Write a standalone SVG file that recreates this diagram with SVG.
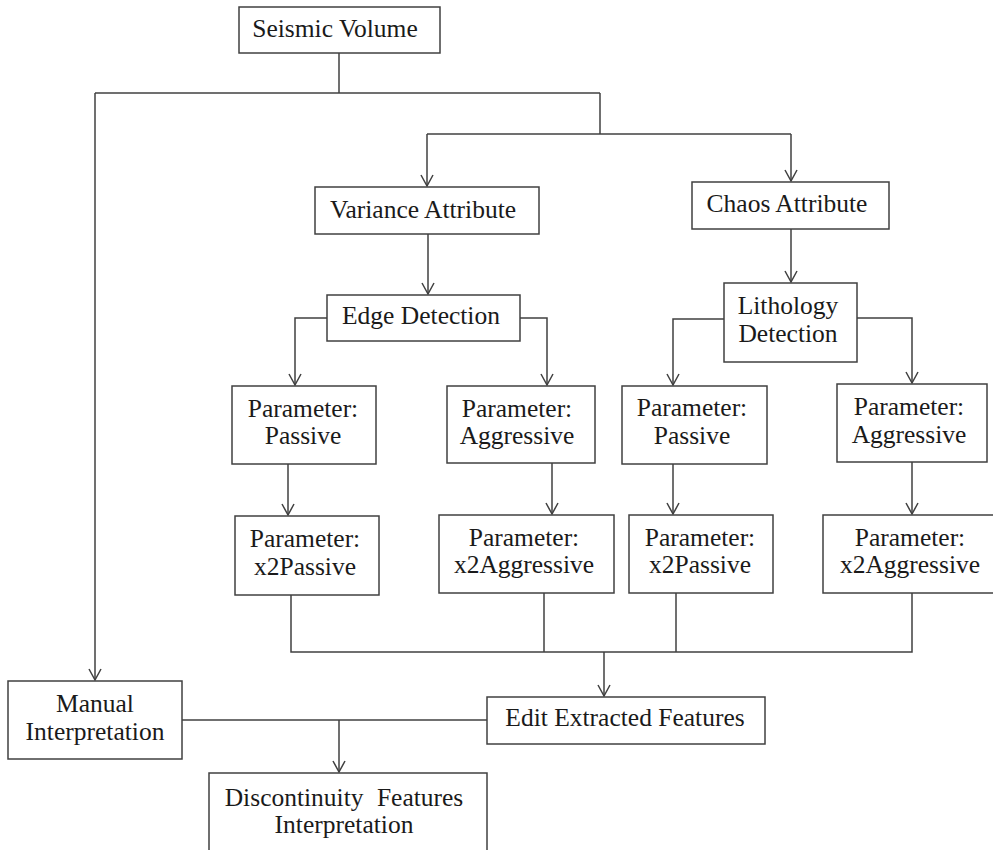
<svg xmlns="http://www.w3.org/2000/svg" width="993" height="850" viewBox="0 0 993 850">
<style>
.box{fill:#fff;stroke:#404040;stroke-width:1.5}
.t{font-family:"Liberation Serif","Times New Roman",serif;font-size:25.5px;fill:#1a1a1a;text-anchor:middle}
.c{fill:none;stroke:#404040;stroke-width:1.5}
</style>
<defs>
<marker id="ah" markerUnits="userSpaceOnUse" markerWidth="16" markerHeight="16" viewBox="-8 -14 16 16" refX="0" refY="0" orient="auto-start-reverse" overflow="visible">
<path d="M-11,-6 L0,0 L-11,6" fill="none" stroke="#404040" stroke-width="1.5"/>
</marker>
</defs>
<rect width="993" height="850" fill="#fff"/>
<g id="connectors" class="c">
<path d="M339,53 V93"/>
<path d="M95,93 H600"/>
<path d="M95,93 V680" marker-end="url(#ah)"/>
<path d="M600,93 V134"/>
<path d="M427,134 H791"/>
<path d="M427,134 V186" marker-end="url(#ah)"/>
<path d="M791,134 V181" marker-end="url(#ah)"/>
<path d="M428,234 V294" marker-end="url(#ah)"/>
<path d="M791,229 V282" marker-end="url(#ah)"/>
<path d="M327,318 H295 V385" marker-end="url(#ah)"/>
<path d="M520,318 H547 V385" marker-end="url(#ah)"/>
<path d="M724,319 H673 V385" marker-end="url(#ah)"/>
<path d="M857,318 H912 V383" marker-end="url(#ah)"/>
<path d="M288,464 V515" marker-end="url(#ah)"/>
<path d="M552,463 V514" marker-end="url(#ah)"/>
<path d="M673,464 V514" marker-end="url(#ah)"/>
<path d="M912,462 V514" marker-end="url(#ah)"/>
<path d="M291,595 V652 H912 V593"/>
<path d="M544,593 V652"/>
<path d="M676,593 V652"/>
<path d="M604,652 V696" marker-end="url(#ah)"/>
<path d="M182,720 H487"/>
<path d="M339,720 V772" marker-end="url(#ah)"/>
</g>
<g id="seismic"><rect class="box" x="239" y="7" width="201" height="46"/><text class="t" x="335" y="37">Seismic Volume</text></g>
<g id="variance"><rect class="box" x="315" y="187" width="224" height="47"/><text class="t" x="423" y="218">Variance Attribute</text></g>
<g id="chaos"><rect class="box" x="692" y="182" width="197" height="47"/><text class="t" x="787" y="212">Chaos Attribute</text></g>
<g id="edge"><rect class="box" x="327" y="295" width="193" height="46"/><text class="t" x="421" y="324">Edge Detection</text></g>
<g id="lithology"><rect class="box" x="724" y="283" width="133" height="79"/><text class="t" x="788" y="314">Lithology</text><text class="t" x="788" y="342">Detection</text></g>
<g id="edge-passive"><rect class="box" x="232" y="386" width="144" height="78"/><text class="t" x="303" y="417">Parameter:</text><text class="t" x="303" y="444">Passive</text></g>
<g id="edge-aggressive"><rect class="box" x="447" y="386" width="148" height="77"/><text class="t" x="517" y="417">Parameter:</text><text class="t" x="517" y="444">Aggressive</text></g>
<g id="lith-passive"><rect class="box" x="622" y="386" width="145" height="78"/><text class="t" x="692" y="416">Parameter:</text><text class="t" x="692" y="444">Passive</text></g>
<g id="lith-aggressive"><rect class="box" x="837" y="384" width="150" height="78"/><text class="t" x="909" y="415">Parameter:</text><text class="t" x="909" y="443">Aggressive</text></g>
<g id="edge-x2passive"><rect class="box" x="235" y="516" width="144" height="79"/><text class="t" x="305" y="547">Parameter:</text><text class="t" x="305" y="575">x2Passive</text></g>
<g id="edge-x2aggressive"><rect class="box" x="439" y="515" width="175" height="78"/><text class="t" x="524" y="546">Parameter:</text><text class="t" x="524" y="573">x2Aggressive</text></g>
<g id="lith-x2passive"><rect class="box" x="629" y="515" width="144" height="78"/><text class="t" x="700" y="546">Parameter:</text><text class="t" x="700" y="573">x2Passive</text></g>
<g id="lith-x2aggressive"><rect class="box" x="823" y="515" width="174" height="78"/><text class="t" x="910" y="546">Parameter:</text><text class="t" x="910" y="573">x2Aggressive</text></g>
<g id="manual"><rect class="box" x="8" y="681" width="174" height="78"/><text class="t" x="95" y="712">Manual</text><text class="t" x="95" y="740">Interpretation</text></g>
<g id="edit"><rect class="box" x="487" y="697" width="278" height="47"/><text class="t" x="625" y="726">Edit Extracted Features</text></g>
<g id="discontinuity"><rect class="box" x="209" y="773" width="278" height="82"/><text class="t" x="344" y="806" word-spacing="7">Discontinuity Features</text><text class="t" x="344" y="833">Interpretation</text></g>
</svg>
